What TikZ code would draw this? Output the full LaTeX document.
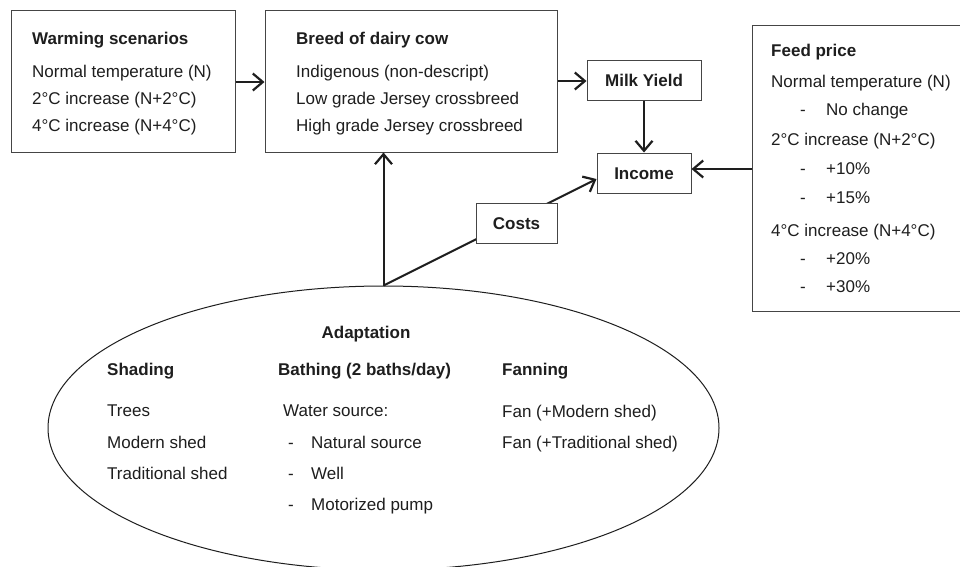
\documentclass[tikz,border=0pt]{standalone}
\usepackage{fontspec}
\setmainfont{Liberation Sans}
\usetikzlibrary{arrows.meta,shapes.geometric}
\definecolor{ink}{HTML}{1E1E1E}
\definecolor{frame}{HTML}{454545}
\tikzset{
  boxframe/.style={draw=frame,line width=1pt,fill=white,rectangle,inner sep=0pt},
  txt/.style={anchor=base west,inner sep=0pt,text=ink,font=\fontsize{17pt}{20pt}\selectfont},
  btxt/.style={txt,font=\fontsize{17pt}{20pt}\selectfont\bfseries},
  ctxt/.style={anchor=base,inner sep=0pt,text=ink,font=\fontsize{17pt}{20pt}\selectfont\bfseries},
  conn/.style={draw=ink,line width=2pt,-{Straight Barb[length=10pt,width=17pt,line width=2.2pt]}},
}
\begin{document}
\begin{tikzpicture}[x=1pt,y=-1pt]
\useasboundingbox (0,0) rectangle (960,566);
\clip (0,0) rectangle (960,566);
\fill[white] (0,0) rectangle (960,566);

% Boxes
\node[boxframe,minimum width=224pt,minimum height=142pt] (warm) at (123,81) {};
\node[boxframe,minimum width=292pt,minimum height=142pt] (breed) at (411,81) {};
\node[boxframe,minimum width=114pt,minimum height=40pt] (milk) at (644,80) {};
\node[boxframe,minimum width=94pt,minimum height=40pt] (income) at (644,173) {};
\node[boxframe,minimum width=213pt,minimum height=286pt] (feed) at (858.5,168) {};
\node[draw=ink,line width=1pt,ellipse,minimum width=671pt,minimum height=284pt,inner sep=0pt] (adapt) at (383.5,428) {};

% Warming scenarios
\node[btxt] (w0) at (32,44) {Warming scenarios};
\node[txt] (w1) at (32,77) {Normal temperature (N)};
\node[txt] (w2) at (32,104) {2°C increase (N+2°C)};
\node[txt] (w3) at (32,131) {4°C increase (N+4°C)};

% Breed
\node[btxt] (b0) at (296,44) {Breed of dairy cow};
\node[txt] (b1) at (296,77) {Indigenous (non-descript)};
\node[txt] (b2) at (296,104) {Low grade Jersey crossbreed};
\node[txt] (b3) at (296,131) {High grade Jersey crossbreed};

% Milk / Income
\node[ctxt] (milkt) at (644,86) {Milk Yield};
\node[ctxt] (inct) at (644,179) {Income};

% Feed price
\node[btxt] (f0) at (771,56) {Feed price};
\node[txt] (f1) at (771,87) {Normal temperature (N)};
\node[txt] (f1d) at (800,115) {-};
\node[txt] (f1a) at (826,115) {No change};
\node[txt] (f2) at (771,145) {2°C increase (N+2°C)};
\node[txt] (f2d) at (800,174) {-};
\node[txt] (f2a) at (826,174) {+10\%};
\node[txt] (f3d) at (800,203) {-};
\node[txt] (f3a) at (826,203) {+15\%};
\node[txt] (f4) at (771,236) {4°C increase (N+4°C)};
\node[txt] (f4d) at (800,264) {-};
\node[txt] (f4a) at (826,264) {+20\%};
\node[txt] (f5d) at (800,292) {-};
\node[txt] (f5a) at (826,292) {+30\%};

% Adaptation
\node[ctxt] (a0) at (366,338) {Adaptation};
\node[btxt] (s0) at (107,375) {Shading};
\node[txt] (s1) at (107,416) {Trees};
\node[txt] (s2) at (107,448) {Modern shed};
\node[txt] (s3) at (107,479) {Traditional shed};
\node[btxt] (h0) at (278,375) {Bathing (2 baths/day)};
\node[txt] (h1) at (283,416) {Water source:};
\node[txt] (h2d) at (288,448) {-};
\node[txt] (h2) at (311,448) {Natural source};
\node[txt] (h3d) at (288,479) {-};
\node[txt] (h3) at (311,479) {Well};
\node[txt] (h4d) at (288,510) {-};
\node[txt] (h4) at (311,510) {Motorized pump};
\node[btxt] (n0) at (502,375) {Fanning};
\node[txt] (n1) at (502,417) {Fan (+Modern shed)};
\node[txt] (n2) at (502,448) {Fan (+Traditional shed)};

% Connectors
\draw[conn] (warm.east |- 0,82) -- (breed.west |- 0,82);
\draw[conn] (breed.east |- 0,81) -- (milk.west |- 0,81);
\draw[conn] (milk.south) -- (income.north);
\draw[conn] (feed.west |- 0,169) -- (income.east |- 0,169);
\draw[conn] (adapt.north) -- (breed.south -| adapt.north);
\draw[conn] (adapt.north) -- (income.west |- 0,179);

% Costs (on top of the diagonal line)
\node[boxframe,minimum width=81pt,minimum height=40pt] (costs) at (516.5,223) {};
\node[ctxt] (costt) at (516.5,229) {Costs};
\end{tikzpicture}
\end{document}
